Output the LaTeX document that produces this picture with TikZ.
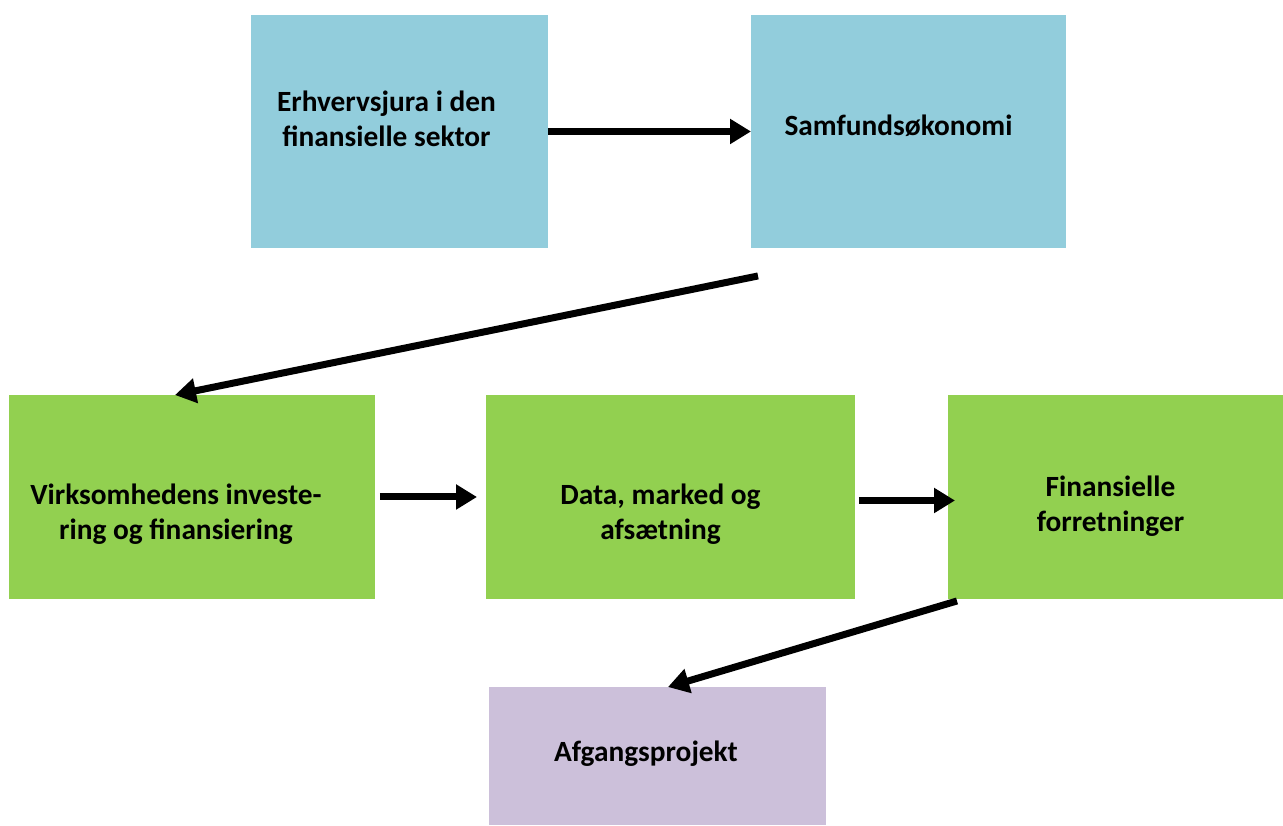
\documentclass[tikz,border=0pt]{standalone}
\usepackage{fontspec}
\setmainfont{Carlito}
\usetikzlibrary{arrows.meta,positioning}

\definecolor{aqua}{RGB}{146,205,220}
\definecolor{leaf}{RGB}{146,208,80}
\definecolor{lilac}{RGB}{204,192,218}

\tikzset{
  course/.style={rectangle,inner sep=0pt,outer sep=0pt,below right},
  coursetext/.style={inner sep=0pt,align=center,font=\fontsize{16.7}{20}\selectfont\bfseries},
  flow/.style={black,line width=0.14cm,-{Triangle[length=0.42cm,width=0.48cm]}}
}

\begin{document}
\begin{tikzpicture}[x=0.02cm,y=-0.02cm]
      \useasboundingbox (0,0) rectangle (1283,825);

      % first semester
      \node[course,fill=aqua,minimum width=5.94cm,minimum height=4.66cm] (jura) at (251,15) {};
      \node[course,fill=aqua,minimum width=6.30cm,minimum height=4.66cm] (oekonomi) at (751,15) {};
      \node[coursetext] (jura txt) at ([shift={(-0.26cm,0.26cm)}]jura.center) {Erhvervsjura i den\\finansielle sektor};
      \node[coursetext] (oekonomi txt) at ([shift={(-0.20cm,0.12cm)}]oekonomi.center) {Samfundsøkonomi};

      % second row
      \node[course,fill=leaf,minimum width=7.32cm,minimum height=4.08cm] (invest) at (9,395) {};
      \node[course,fill=leaf,minimum width=7.38cm,minimum height=4.08cm] (data) at (486,395) {};
      \node[course,fill=leaf,minimum width=6.70cm,minimum height=4.08cm] (forret) at (948,395) {};
      \node[coursetext] (invest txt) at ([shift={(-0.32cm,-0.35cm)}]invest.center) {Virksomhedens investe-\\ring og finansiering};
      \node[coursetext] (data txt) at ([shift={(-0.20cm,-0.34cm)}]data.center) {Data, marked og\\afsætning};
      \node[coursetext] (forret txt) at ([shift={(-0.10cm,-0.19cm)}]forret.center) {Finansielle\\forretninger};

      % final project
      \node[course,fill=lilac,minimum width=6.74cm,minimum height=2.76cm] (projekt) at (489,687) {};
      \node[coursetext] (projekt txt) at ([shift={(-0.23cm,0.04cm)}]projekt.center) {Afgangsprojekt};

      % arrows
      \draw[flow] (jura.east) -- (oekonomi.west);
      \draw[flow] ([shift={(0.14cm,-0.56cm)}]oekonomi.south west) -- ([xshift=-0.34cm]invest.north);
      \draw[flow] ([xshift=0.10cm]invest.east) -- ([xshift=-0.18cm]data.west);
      \draw[flow] ([shift={(0.08cm,-0.07cm)}]data.east) -- ([shift={(0.14cm,-0.07cm)}]forret.west);
      \draw[flow] ([shift={(0.18cm,-0.04cm)}]forret.south west) -- ([xshift=0.21cm]projekt.north);
\end{tikzpicture}
\end{document}
